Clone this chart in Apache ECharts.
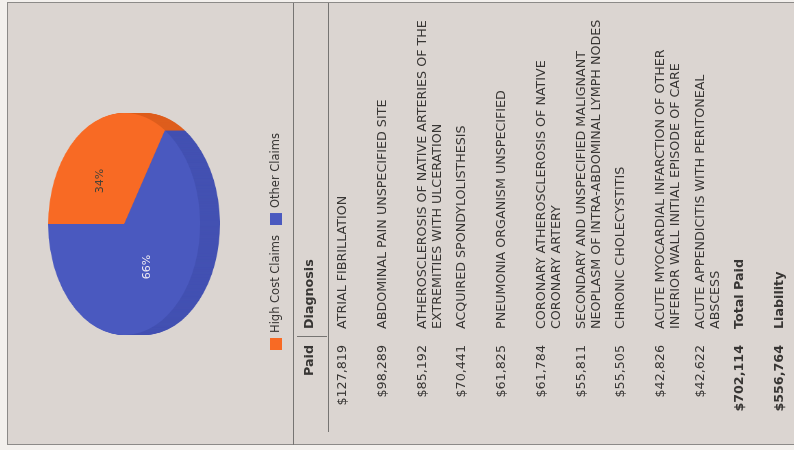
<!DOCTYPE html>
<html>
<head>
<meta charset="utf-8">
<title>High Cost Claims</title>
<script src="https://cdn.jsdelivr.net/npm/echarts@6/dist/echarts.min.js"></script>
<style>
  html, body { margin: 0; padding: 0; width: 794px; height: 450px; overflow: hidden; background: #f3f0ed; }
  /* The report sheet is laid out upright (450 wide, 794 tall) and turned a quarter turn to fit the landscape frame. */
  #page { position: absolute; left: 0; top: 0; width: 450px; height: 794px;
          transform-origin: 0 0; transform: translate(0, 450px) rotate(-90deg); }
  #sheet { position: absolute; left: 5px; top: 7px; width: 441px; height: 820px;
           background: #dbd5d1; border: 1px solid #8c8a88; }
  /* The pie is drawn round and squashed vertically to give the tilted, elliptical look. */
  #pie { position: absolute; left: 106px; top: 41.8px; width: 240px; height: 290px;
         transform-origin: 0 0; transform: scaleY(0.6847); }
  #main { position: absolute; left: 0; top: 0; width: 450px; height: 794px; }
</style>
</head>
<body>
<div id="page">
  <div id="sheet"></div>
  <div id="pie"></div>
  <div id="main"></div>
</div>
<script>
// ---- data ----
const categories = ['High Cost Claims', 'Other Claims'];
const shares = [34, 66];
const faceColors = ['#f86a24', '#4a59bf'];
const sideColors = ['#de5e1d', '#4351b2'];
const labelColors = ['#4b4236', '#ebe7f2'];

const tableHeaders = ['Paid', 'Diagnosis'];
const paidAmounts = [127819, 98289, 85192, 70441, 61825, 61784, 55811, 55505, 42826, 42622];
const diagnoses = [
  'ATRIAL FIBRILLATION',
  'ABDOMINAL PAIN UNSPECIFIED SITE',
  'ATHEROSCLEROSIS OF NATIVE ARTERIES OF THE\nEXTREMITIES WITH ULCERATION',
  'ACQUIRED SPONDYLOLISTHESIS',
  'PNEUMONIA ORGANISM UNSPECIFIED',
  'CORONARY ATHEROSCLEROSIS OF NATIVE\nCORONARY ARTERY',
  'SECONDARY AND UNSPECIFIED MALIGNANT\nNEOPLASM OF INTRA-ABDOMINAL LYMPH NODES',
  'CHRONIC CHOLECYSTITIS',
  'ACUTE MYOCARDIAL INFARCTION OF OTHER\nINFERIOR WALL INITIAL EPISODE OF CARE',
  'ACUTE APPENDICITIS WITH PERITONEAL\nABSCESS'
];
const summaryLabels = ['Total Paid', 'Liability'];
const summaryAmounts = [702114, 556764];

// ---- layout ----
const FONT = '"DejaVu Sans", Verdana, sans-serif';
const FS = '12.7px ';
const TEXT = '#383634';
const LINE = '#767472';
const paidRight = 105;      // right edge of the Paid column
const diagLeft = 121;       // left edge of the Diagnosis column
const headerY = 310;
const firstRowY = 343;
const rowPitch = 39.7;
const lineH = 15;

const money = v => '$' + v.toLocaleString('en-US');

// ---- pie body: side wall layers under the top face ----
const PIE_R = 111;
const PIE_CX = 120, PIE_CY = 120;
const DEPTH = 29;
const pieData = colors => shares.map((v, i) => ({
  value: v, name: categories[i], itemStyle: { color: colors[i] }
}));
const pieSeries = [];
for (let k = DEPTH; k >= 1; k--) {
  pieSeries.push({
    type: 'pie', silent: true, startAngle: 90, clockwise: true,
    center: [PIE_CX, PIE_CY + k], radius: PIE_R,
    itemStyle: { borderWidth: 0 },
    label: { show: false }, labelLine: { show: false },
    emphasis: { disabled: true },
    data: pieData(sideColors)
  });
}
pieSeries.push({
  type: 'pie', silent: true, startAngle: 90, clockwise: true,
  center: [PIE_CX, PIE_CY], radius: PIE_R,
  itemStyle: { borderWidth: 0 },
  label: { show: false }, labelLine: { show: false },
  emphasis: { disabled: true },
  data: pieData(faceColors)
});
const pieChart = echarts.init(document.getElementById('pie'), null, { renderer: 'canvas' });
pieChart.setOption({ animation: false, series: pieSeries });

// ---- table ----
const graphics = [];
function addText(x, y, text, opts) {
  graphics.push({
    type: 'text', x: x, y: y, silent: true,
    style: Object.assign({
      text: text, fill: TEXT, font: FS + FONT,
      verticalAlign: 'top', lineHeight: lineH
    }, opts || {})
  });
}
function addLine(x1, y1, x2, y2) {
  graphics.push({
    type: 'line', silent: true,
    shape: { x1: x1, y1: y1, x2: x2, y2: y2 },
    style: { stroke: LINE, lineWidth: 1 }
  });
}

// separator between the chart panel and the table, and the header rule
addLine(5, 293.5, 447, 293.5);
addLine(18, 328.5, 447, 328.5);
addLine(113.5, 297, 113.5, 327);

addText(paidRight, headerY - lineH / 2, tableHeaders[0], { align: 'right', font: 'bold ' + FS + FONT });
addText(diagLeft, headerY - lineH / 2, tableHeaders[1], { align: 'left', font: 'bold ' + FS + FONT });

paidAmounts.forEach((v, i) => {
  const y = firstRowY + i * rowPitch - lineH / 2;
  addText(paidRight, y, money(v), { align: 'right' });
  addText(diagLeft, y, diagnoses[i], { align: 'left' });
});
summaryLabels.forEach((lab, j) => {
  const y = firstRowY + (paidAmounts.length + j) * rowPitch - lineH / 2;
  addText(paidRight, y, money(summaryAmounts[j]), { align: 'right', font: 'bold ' + FS + FONT });
  addText(diagLeft, y, lab, { align: 'left', font: 'bold ' + FS + FONT });
});

// ---- legend and percentage labels over the pie ----
const mainChart = echarts.init(document.getElementById('main'), null, { renderer: 'canvas' });
mainChart.setOption({
  animation: false,
  legend: {
    left: 100, top: 270, padding: 0, orient: 'horizontal',
    icon: 'rect', itemWidth: 12, itemHeight: 12, itemGap: 10,
    selectedMode: false,
    textStyle: { fontFamily: FONT, fontSize: 11.5, color: TEXT },
    data: categories.map((n, i) => ({ name: n, itemStyle: { color: faceColors[i], opacity: 1 } }))
  },
  series: [{
    type: 'pie', silent: true, startAngle: 90, clockwise: true,
    center: [226, 124], radius: [0, 92],
    itemStyle: { color: 'rgba(0,0,0,0)', borderWidth: 0 },
    emphasis: { disabled: true },
    label: { show: true, position: 'inside', formatter: '{d}%', fontFamily: FONT, fontSize: 11 },
    labelLine: { show: false },
    data: shares.map((v, i) => ({ value: v, name: categories[i], label: { color: labelColors[i] } }))
  }],
  graphic: graphics
});
</script>
</body>
</html>
